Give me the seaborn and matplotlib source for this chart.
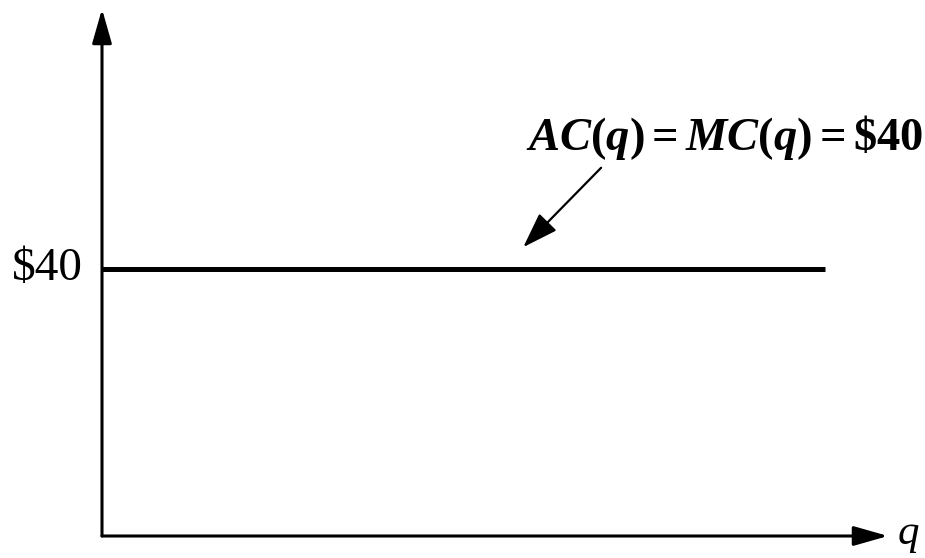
import matplotlib
matplotlib.use("Agg")
import matplotlib.pyplot as plt
import seaborn as sns
import pandas as pd

sns.set_theme(style="white")
plt.rcParams["font.family"] = ["Liberation Serif", "DejaVu Serif"]
plt.rcParams["text.color"] = "black"
plt.rcParams["mathtext.fontset"] = "custom"
plt.rcParams["mathtext.it"] = "Liberation Serif:italic:bold"
plt.rcParams["mathtext.rm"] = "Liberation Serif:bold"
plt.rcParams["mathtext.bf"] = "Liberation Serif:bold"

# Constant average / marginal cost
quantity = [0, 92]
cost = [40, 40]
price_label = "$40"
curve_label = r"$AC(q) = MC(q) = \mathrm{\$40}$"
x_label = "q"

df = pd.DataFrame({"q": quantity, "cost": cost})

W, H = 925, 558
fig = plt.figure(figsize=(W / 100, H / 100), dpi=100)
ox, oy = 102, 536          # origin in pixels
top, right = 9, 888        # arrow tips in pixels
ax = fig.add_axes([ox / W, (H - oy) / H, (right - ox) / W, (oy - top) / H])
ax.set_xlim(0, 100)
ax.set_ylim(0, 79)
for s in ax.spines.values():
    s.set_visible(False)
ax.set_xticks([])
ax.set_yticks([])
ax.patch.set_alpha(0)

sns.lineplot(data=df, x="q", y="cost", color="black", linewidth=3.6, ax=ax,
             solid_capstyle="butt")
ax.set_xlabel("")
ax.set_ylabel("")

# Axes with arrowheads
axis_arrow = dict(arrowstyle="-|>,head_length=2.1,head_width=0.6", lw=2.2,
                  color="black", shrinkA=0, shrinkB=0, mutation_scale=10)
ax.annotate("", xy=(0, 1), xytext=(0, 0), xycoords="axes fraction",
            arrowprops=axis_arrow, annotation_clip=False)
ax.annotate("", xy=(1, 0), xytext=(0, 0), xycoords="axes fraction",
            arrowprops=axis_arrow, annotation_clip=False)

ax.text(-0.025, 38.4, price_label, ha="right", va="baseline",
        fontsize=34, transform=ax.get_yaxis_transform(), clip_on=False)
ax.text(1.0127, -0.016, x_label, ha="left", va="baseline", fontsize=31,
        style="italic", transform=ax.transAxes, clip_on=False)

# Label with pointer to the cost line
ax.text(54.0, 57.9, curve_label, fontsize=33.5, ha="left", va="baseline")
ax.annotate("", xy=(53.6, 43.3), xytext=(63.5, 55.2),
            arrowprops=dict(arrowstyle="-|>,head_length=2.2,head_width=0.75",
                            lw=1.6, color="black", shrinkA=0, shrinkB=0,
                            mutation_scale=10))

fig.savefig("out.png", dpi=100)
